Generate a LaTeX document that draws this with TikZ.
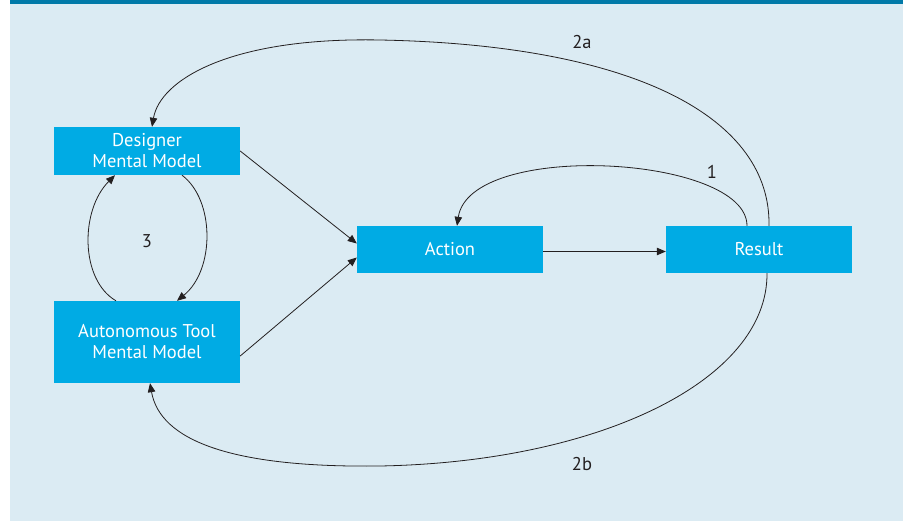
\documentclass[tikz,border=0pt]{standalone}
\usepackage{fontspec}
\setmainfont{PT Sans}
\usetikzlibrary{arrows.meta}

\definecolor{bgblue}{HTML}{DBEBF3}
\definecolor{barblue}{HTML}{0079A8}
\definecolor{boxblue}{HTML}{00ABE4}
\definecolor{ink}{HTML}{231F20}

\tikzset{
	box/.style={rectangle, fill=boxblue, text=white, minimum width=186pt, align=center, inner sep=0pt},
	arr/.style={draw=ink, line width=0.8pt, -{Triangle[length=9pt,width=7.5pt]}},
	lbl/.style={text=ink, inner sep=0pt}
}

\begin{document}
\begin{tikzpicture}[x=1pt,y=-1pt,font=\fontsize{18.5}{21}\selectfont]
			% Frame and background
			\useasboundingbox (0,0) rectangle (903,521);
			\fill[white] (0,0) rectangle (903,521);
			\fill[bgblue] (10,0) rectangle (903,521);
			\fill[barblue] (10,0) rectangle (903,4);
			
			% Boxes
			\node[box, minimum height=48pt] (designer) at (147,151) {Designer\\Mental Model};
			\node[box, minimum height=82pt] (tool) at (147,342) {Autonomous Tool\\Mental Model};
			\node[box, minimum height=47pt] (action) at (450,249.5) {Action};
			\node[box, minimum height=47pt] (result) at (759,249.5) {Result};
			
			% Straight arrows
			\draw[arr] (designer.east) -- ([yshift=6]action.west);
			\draw[arr] ([yshift=-14]tool.east) -- ([yshift=-8]action.west);
			\draw[arr] ([yshift=-2]action.east) -- ([yshift=-2]result.west);
			
			% Loop 1
			\draw[arr] ([xshift=-12]result.north) .. controls (747,155) and (470,140) .. ([xshift=7]action.north);
			% Loop 2a
			\draw[arr] ([xshift=10]result.north) .. controls (771,120) and (640,45) .. (380,40)
				.. controls (230,37) and (160,80) .. ([xshift=5]designer.north);
			% Loop 2b
			\draw[arr] ([xshift=8]result.south) .. controls (768,380) and (600,462) .. (380,466)
				.. controls (230,468) and (160,440) .. ([xshift=3]tool.south);
			% Loop 3
			\draw[arr] ([xshift=35]designer.south) .. controls (215,200) and (215,270) .. ([xshift=30]tool.north);
			\draw[arr] ([xshift=-31]tool.north) .. controls (80,280) and (80,210) .. ([xshift=-32]designer.south);
			
			% Labels
			\node[lbl] (l1) at (712,172) {1};
			\node[lbl] (l2a) at (582,42) {2a};
			\node[lbl] (l2b) at (582,464) {2b};
			\node[lbl] (l3) at (147,241) {3};
		\end{tikzpicture}
\end{document}
